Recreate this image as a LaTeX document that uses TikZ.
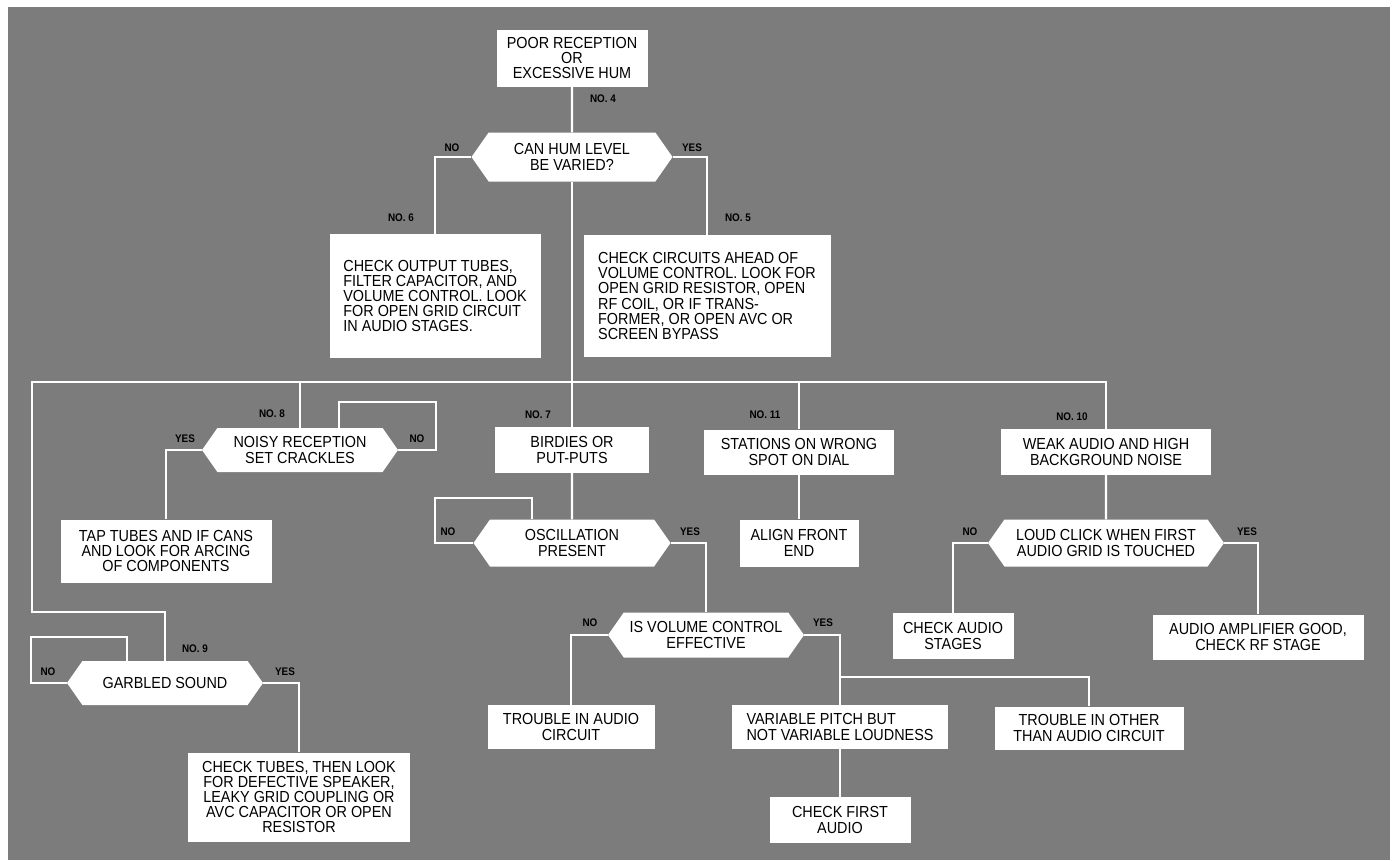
\documentclass[tikz,border=0pt]{standalone}
\usepackage{fontspec}
\setmainfont{Liberation Sans}
\newfontfamily\chartfont[FakeStretch=0.9]{Liberation Sans}
\usepackage{xcolor}
\usepackage{tikz}
\usetikzlibrary{positioning,shapes,shapes.symbols,arrows,calc}
\definecolor{panelgray}{RGB}{124,124,124}

\begin{document}
\begin{tikzpicture}[x=1pt, y=-1pt,
    box/.style={fill=white, align=center, inner sep=2pt, font=\chartfont\fontsize{16}{15.2}\selectfont},
    hexa/.style={box, shape=signal, signal to=west and east, signal pointer angle=110, inner xsep=1pt},
    tag/.style={font=\chartfont\fontsize{11}{11}\selectfont\bfseries, text=black, inner sep=0pt},
    wire/.style={draw=white, line width=2.2pt}]

    \useasboundingbox (0,0) rectangle (1397,860);
    \fill[white] (0,0) rectangle (1397,860);
    \fill[panelgray] (8,7) rectangle (1390,860);

    % top of the chart
    \node[box, minimum width=151, minimum height=57] (poor) at (572,58) {POOR RECEPTION\\OR\\EXCESSIVE HUM};
    \node[hexa, minimum width=201, minimum height=49] (hum) at (572,157) {CAN HUM LEVEL\\BE VARIED?};
    \node[box, align=left, minimum width=211, minimum height=124] (outp) at (435,296)
        {CHECK OUTPUT TUBES,\\FILTER CAPACITOR, AND\\VOLUME CONTROL. LOOK\\FOR OPEN GRID CIRCUIT\\IN AUDIO STAGES.};
    \node[box, align=left, minimum width=247, minimum height=122] (ahead) at (707,296)
        {CHECK CIRCUITS AHEAD OF\\VOLUME CONTROL. LOOK FOR\\OPEN GRID RESISTOR, OPEN\\RF COIL, OR IF TRANS-\\FORMER, OR OPEN AVC OR\\SCREEN BYPASS};

    % second row
    \node[hexa, minimum width=196, minimum height=44] (noisy) at (300,450) {NOISY RECEPTION\\SET CRACKLES};
    \node[box, minimum width=211, minimum height=63] (tap) at (166,551) {TAP TUBES AND IF CANS\\AND LOOK FOR ARCING\\OF COMPONENTS};
    \node[box, minimum width=154, minimum height=46] (birdies) at (572,450) {BIRDIES OR\\PUT-PUTS};
    \node[hexa, minimum width=197, minimum height=47] (osc) at (572,543) {OSCILLATION\\PRESENT};
    \node[box, minimum width=190, minimum height=45] (stations) at (799,452) {STATIONS ON WRONG\\SPOT ON DIAL};
    \node[box, minimum width=119, minimum height=47] (align) at (799,543) {ALIGN FRONT\\END};
    \node[box, minimum width=210, minimum height=46] (weak) at (1106,452) {WEAK AUDIO AND HIGH\\BACKGROUND NOISE};
    \node[hexa, minimum width=236, minimum height=47] (loud) at (1106,543) {LOUD CLICK WHEN FIRST\\AUDIO GRID IS TOUCHED};

    % lower part
    \node[hexa, minimum width=196, minimum height=45] (volume) at (706,635) {IS VOLUME CONTROL\\EFFECTIVE};
    \node[box, minimum width=121, minimum height=46] (chkaudio) at (953,636) {CHECK AUDIO\\STAGES};
    \node[box, minimum width=211, minimum height=45] (ampgood) at (1258,637) {AUDIO AMPLIFIER GOOD,\\CHECK RF STAGE};
    \node[hexa, minimum width=196, minimum height=44] (garbled) at (165,683) {GARBLED SOUND};
    \node[box, minimum width=167, minimum height=44] (audiotrouble) at (571,727) {TROUBLE IN AUDIO\\CIRCUIT};
    \node[box, align=left, minimum width=216, minimum height=44] (pitch) at (840,727) {VARIABLE PITCH BUT\\NOT VARIABLE LOUDNESS};
    \node[box, minimum width=189, minimum height=43] (othertrouble) at (1089,728) {TROUBLE IN OTHER\\THAN AUDIO CIRCUIT};
    \node[box, minimum width=141, minimum height=46] (firstaudio) at (840,820) {CHECK FIRST\\AUDIO};
    \node[box, minimum width=222, minimum height=89] (tubes) at (299,797) {CHECK TUBES, THEN LOOK\\FOR DEFECTIVE SPEAKER,\\LEAKY GRID COUPLING OR\\AVC CAPACITOR OR OPEN\\RESISTOR};

    \coordinate (busL) at (32,382);
    \coordinate (turnL) at (32,612);
    \coordinate (nloop) at (436,402);
    \coordinate (oloop) at (435,498);
    \coordinate (gloop) at (31,637);
    \coordinate (split) at (840,677);

    % connectors
    \draw[wire] (poor) -- (hum);
    \draw[wire] (hum.west) -| (outp.north);
    \draw[wire] (hum.east) -| (ahead.north);
    \draw[wire] (hum.south) -- (birdies.north);
    \draw[wire] (garbled.north) |- (turnL) -- (busL) -| (weak.north);
    \draw[wire] (noisy.north |- busL) -- (noisy.north);
    \draw[wire] (stations.north |- busL) -- (stations.north);
    \draw[wire] (noisy.west) -| (tap.north);
    \draw[wire] (noisy.east) -| (nloop) -| ([xshift=39pt]noisy.north);
    \draw[wire] (birdies) -- (osc);
    \draw[wire] (osc.west) -| (oloop) -| ([xshift=-40pt]osc.north);
    \draw[wire] (osc.east) -| (volume.north);
    \draw[wire] (stations) -- (align);
    \draw[wire] (weak) -- (loud);
    \draw[wire] (loud.west) -| (chkaudio.north);
    \draw[wire] (loud.east) -| (ampgood.north);
    \draw[wire] (volume.west) -| (audiotrouble.north);
    \draw[wire] (volume.east) -| (pitch.north);
    \draw[wire] (split) -| (othertrouble.north);
    \draw[wire] (pitch) -- (firstaudio);
    \draw[wire] (garbled.west) -| (gloop) -| ([xshift=-38pt]garbled.north);
    \draw[wire] (garbled.east) -| (tubes.north);

    % numbers and yes/no marks
    \foreach \x/\y/\t [count=\i] in {603/99/NO. 4, 401/218/NO. 6, 738/218/NO. 5, 272/414/NO. 8,
            538/415/NO. 7, 765/415/NO. 11, 1072/417/NO. 10, 195/649/NO. 9,
            452/148/NO, 692/148/YES, 185/439/YES, 417/439/NO, 448/532/NO, 690/532/YES,
            970/532/NO, 1247/532/YES, 590/623/NO, 823/623/YES, 48/672/NO, 285/672/YES}
        \node[tag] (tag\i) at (\x,\y) {\t};
\end{tikzpicture}
\end{document}
